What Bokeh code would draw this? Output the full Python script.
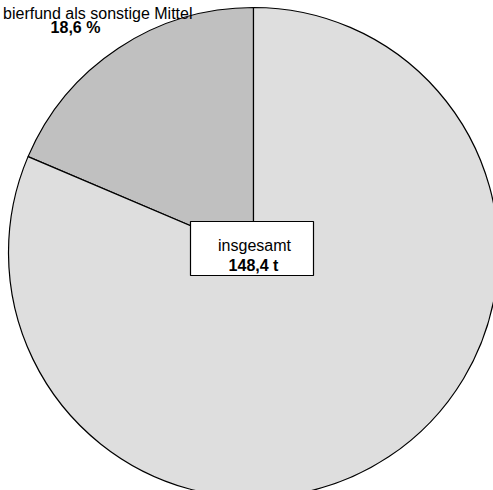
import math
from bokeh.plotting import figure
from bokeh.models import Range1d
from bokeh.core.properties import value
from bokeh.embed import file_html
from bokeh.resources import INLINE

# data
categories = ["übrige", "Köder/Tierfund als sonstige Mittel"]
shares = [81.4, 18.6]
colors = ["#dedede", "#c0c0c0"]
total_label = "148,4 t"
share_label = "18,6 %"

W, H = 493, 490
p = figure(width=W, height=H, output_backend="svg", toolbar_location=None,
           x_range=Range1d(0, W), y_range=Range1d(0, H), min_border=0)
p.axis.visible = False
p.grid.visible = False
p.outline_line_color = None
p.background_fill_color = "white"
p.border_fill_color = "white"

cx, cy, r = 253, 238, 245
# darker slice starts at the top and goes counter-clockwise
a = math.pi / 2
starts, ends = [], []
order = [1, 0]
for i in order:
    starts.append(a)
    a += shares[i] / sum(shares) * 2 * math.pi
    ends.append(a)
p.wedge(x=[cx] * 2, y=[cy] * 2, radius=r,
        start_angle=starts, end_angle=ends,
        fill_color=[colors[i] for i in order],
        line_color="black", line_width=1.2)

# center box
p.rect(x=[251.5], y=[242], width=123, height=54, fill_color="white",
       line_color="black", line_width=1.2)
p.text(x=[254], y=[245], text=["insgesamt"], text_align="center",
       text_baseline="alphabetic", text_font=value("Liberation Sans"),
       text_font_size="16px", text_color="black")
p.text(x=[253], y=[225], text=[total_label], text_align="center",
       text_baseline="alphabetic", text_font=value("Liberation Sans"),
       text_font_size="16px", text_font_style="bold", text_color="black")

# slice label
p.text(x=[192], y=[477], text=["bierfund als sonstige Mittel"], text_align="right",
       text_baseline="alphabetic", text_font=value("Liberation Sans"),
       text_font_size="16px", text_color="black")
p.text(x=[75], y=[463], text=[share_label], text_align="center",
       text_baseline="alphabetic", text_font=value("Liberation Sans"),
       text_font_size="16px", text_font_style="bold", text_color="black")

open("out.html", "w").write(file_html(p, INLINE))
